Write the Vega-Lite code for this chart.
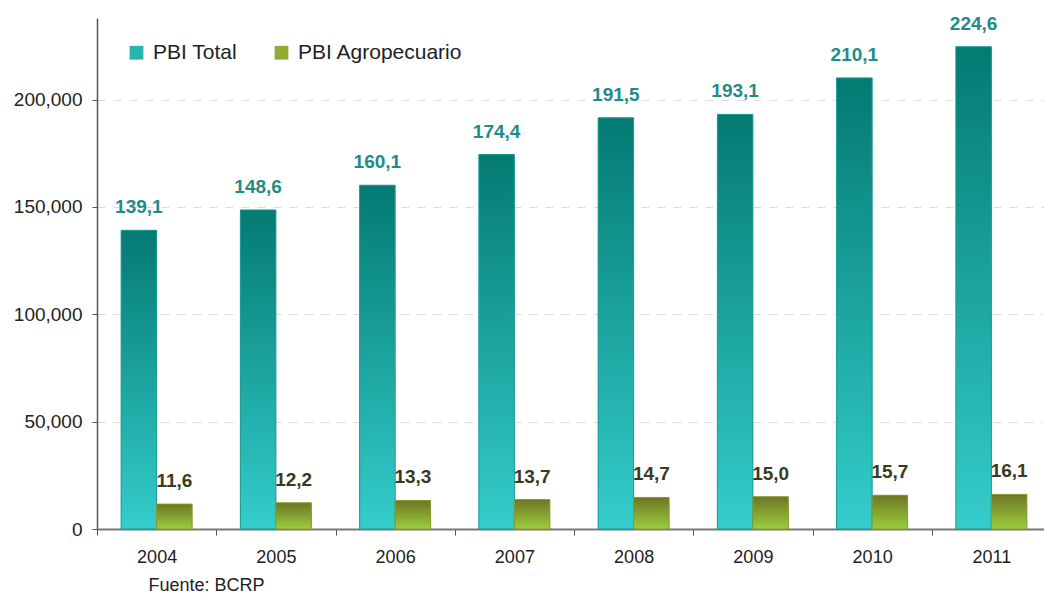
{
  "$schema": "https://vega.github.io/schema/vega-lite/v6.json",
  "autosize": {"type": "none"},
  "padding": {"left": 97, "top": 18, "right": 0, "bottom": 64},
  "width": 954,
  "height": 511,
  "background": "#ffffff",
  "config": {
    "font": "Liberation Sans",
    "view": {"stroke": null}
  },
  "data": {
    "values": [
      {"year": "2004", "serie": "PBI Total", "v": 139.1},
      {"year": "2005", "serie": "PBI Total", "v": 148.6},
      {"year": "2006", "serie": "PBI Total", "v": 160.1},
      {"year": "2007", "serie": "PBI Total", "v": 174.4},
      {"year": "2008", "serie": "PBI Total", "v": 191.5},
      {"year": "2009", "serie": "PBI Total", "v": 193.1},
      {"year": "2010", "serie": "PBI Total", "v": 210.1},
      {"year": "2011", "serie": "PBI Total", "v": 224.6},
      {"year": "2004", "serie": "PBI Agropecuario", "v": 11.6},
      {"year": "2005", "serie": "PBI Agropecuario", "v": 12.2},
      {"year": "2006", "serie": "PBI Agropecuario", "v": 13.3},
      {"year": "2007", "serie": "PBI Agropecuario", "v": 13.7},
      {"year": "2008", "serie": "PBI Agropecuario", "v": 14.7},
      {"year": "2009", "serie": "PBI Agropecuario", "v": 15.0},
      {"year": "2010", "serie": "PBI Agropecuario", "v": 15.7},
      {"year": "2011", "serie": "PBI Agropecuario", "v": 16.1}
    ]
  },
  "transform": [
    {"calculate": "replace(format(datum.v, '.1f'), '.', ',')", "as": "etiqueta"}
  ],
  "encoding": {
    "x": {
      "field": "year",
      "type": "ordinal",
      "scale": {"paddingInner": 0, "paddingOuter": 0},
      "axis": {
        "title": "Fuente: BCRP",
        "titleFontSize": 18,
        "titleFontWeight": "normal",
        "titleColor": "#222222",
        "titleAnchor": "start",
        "titleAlign": "left",
        "titleBaseline": "top",
        "titleX": 51,
        "titleY": 47,
        "labelAngle": 0,
        "labelFontSize": 18,
        "labelColor": "#222222",
        "labelPadding": 13,
        "tickBand": "extent",
        "tickSize": 6,
        "tickColor": "#555555",
        "domainColor": "#777777",
        "domainWidth": 2,
        "grid": false
      }
    },
    "xOffset": {
      "field": "serie",
      "type": "nominal",
      "sort": ["PBI Total", "PBI Agropecuario"],
      "scale": {"paddingInner": 0, "paddingOuter": 0.68}
    },
    "y": {
      "field": "v",
      "type": "quantitative",
      "scale": {"domain": [0, 238], "nice": false},
      "axis": {
        "title": null,
        "values": [0, 50, 100, 150, 200],
        "labelExpr": "format(datum.value * 1000, ',')",
        "labelFontSize": 19,
        "labelColor": "#222222",
        "labelPadding": 10,
        "tickSize": 5,
        "tickColor": "#555555",
        "domainColor": "#555555",
        "domainWidth": 1.5,
        "grid": true,
        "gridColor": "#dcdcdc",
        "gridDash": [8, 8],
        "gridWidth": 1
      }
    }
  },
  "layer": [
    {
      "mark": {"type": "bar"},
      "encoding": {
        "color": {
          "field": "serie",
          "type": "nominal",
          "scale": {
            "domain": ["PBI Total", "PBI Agropecuario"],
            "range": ["#27b3ae", "#8fad34"]
          },
          "legend": {
            "orient": "none",
            "legendX": 29,
            "legendY": 24,
            "direction": "horizontal",
            "title": null,
            "labelFontSize": 21,
            "labelColor": "#222222",
            "labelLimit": 0,
            "labelOffset": 6,
            "columnPadding": 33,
            "symbolType": "square",
            "symbolSize": 190,
            "symbolStrokeWidth": 1,
            "symbolOpacity": 1
          }
        }
      }
    },
    {
      "mark": {"type": "bar", "strokeWidth": 1},
      "encoding": {
        "color": {
          "condition": {
            "test": "datum.serie === 'PBI Total'",
            "value": {
              "gradient": "linear",
              "x1": 0, "y1": 0, "x2": 0, "y2": 1,
              "stops": [
                {"offset": 0, "color": "#037a72"},
                {"offset": 1, "color": "#34cdcb"}
              ]
            }
          },
          "value": {
            "gradient": "linear",
            "x1": 0, "y1": 0, "x2": 0, "y2": 1,
            "stops": [
              {"offset": 0, "color": "#6d7624"},
              {"offset": 1, "color": "#9ccd3e"}
            ]
          }
        },
        "stroke": {
          "condition": {"test": "datum.serie === 'PBI Total'", "value": "#1c9a95"},
          "value": "#8b9a2e"
        }
      }
    },
    {
      "mark": {"type": "text", "fontSize": 19, "fontWeight": "bold", "baseline": "middle", "dy": -23},
      "encoding": {
        "text": {"field": "etiqueta", "type": "nominal"},
        "color": {
          "condition": {"test": "datum.serie === 'PBI Total'", "value": "#1f8c88"},
          "value": "#3b3a1c"
        }
      }
    }
  ]
}
